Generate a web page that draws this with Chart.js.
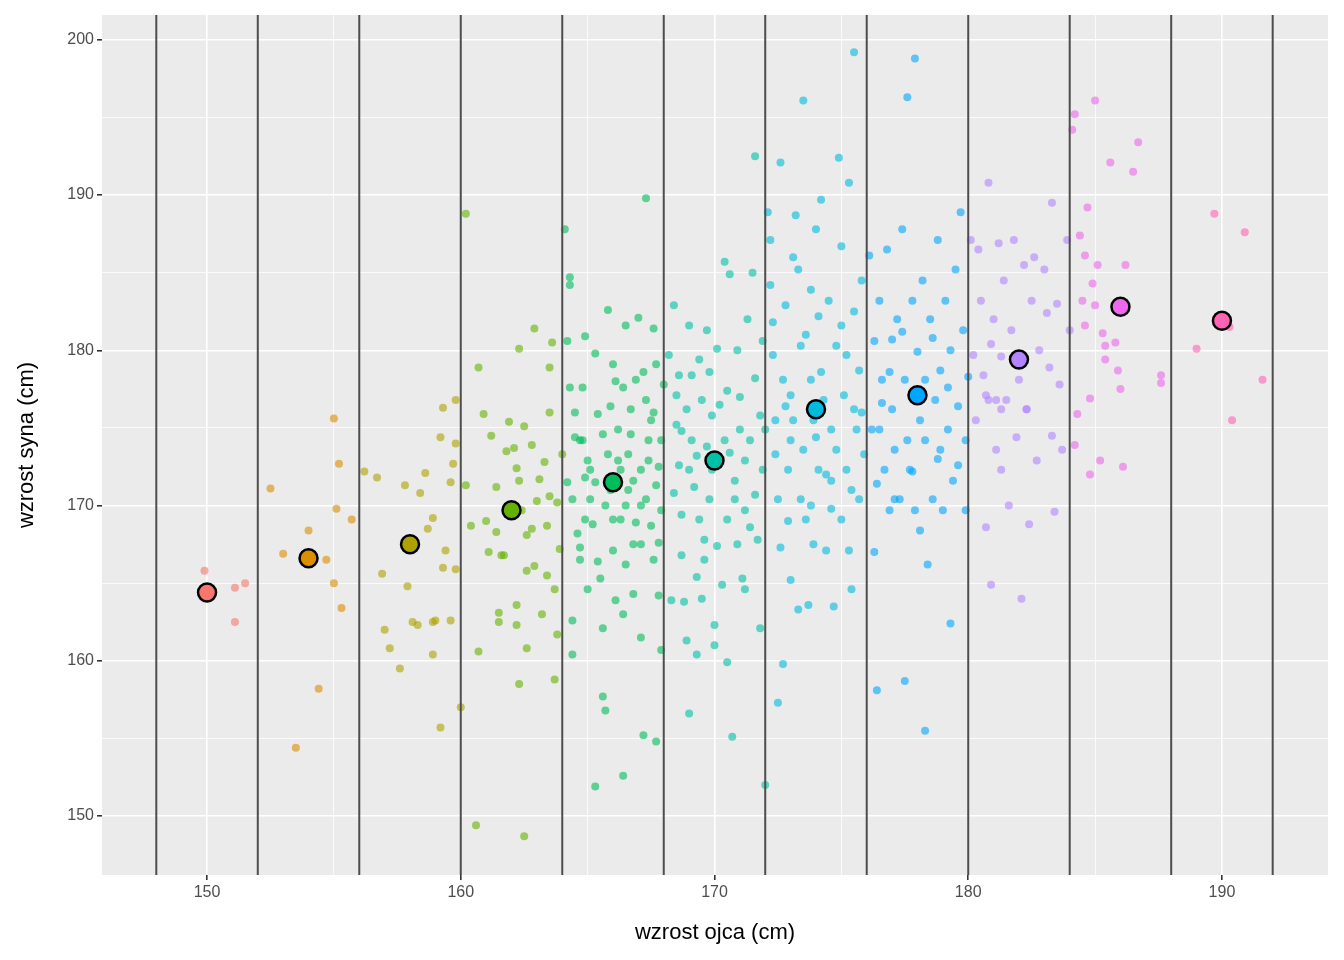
<!DOCTYPE html>
<html>
<head>
<meta charset="utf-8">
<script src="https://cdn.jsdelivr.net/npm/chart.js@4"></script>
<style>
  body { margin: 0; background: #fff; }
  #wrap { width: 1344px; height: 960px; }
</style>
</head>
<body>
<div id="wrap"><canvas id="chart"></canvas></div>
<script>
// group centres (father height) and mean son height per group
const groupCentres = [150, 154, 158, 162, 166, 170, 174, 178, 182, 186, 190];
const groupMeans = [164.4, 166.6, 167.5, 169.7, 171.5, 172.9, 176.2, 177.1, 179.4, 182.8, 181.9];
const groupColors = ['#F8766D', '#DB8E00', '#AEA200', '#64B200', '#00BD5C', '#00C1A7', '#00BADE', '#00A6FF', '#B385FF', '#EF67EB', '#FF63B6'];
const boundaries = [148, 152, 156, 160, 164, 168, 172, 176, 180, 184, 188, 192];
const xTicks = [150, 160, 170, 180, 190];
const yTicks = [150, 160, 170, 180, 190, 200];

const g150 = [[149.9,165.8],[151.1,164.7],[151.5,165.0],[151.1,162.5]];
const g154 = [[152.5,171.1],[153.0,166.9],[153.5,154.4],[154.4,158.2],[154.7,166.5],[155.0,175.6],[155.2,172.7],[155.1,169.8],[155.7,169.1],[155.0,165.0],[155.3,163.4],[154.0,168.4]];
const g158 = [[156.2,172.2],[156.7,171.8],[156.9,165.6],[157.0,162.0],[157.2,160.8],[157.6,159.5],[157.8,171.3],[157.9,164.8],[158.1,162.5],[158.3,162.3],[158.4,170.8],[158.6,172.1],[158.7,168.5],[158.9,169.2],[158.9,162.5],[158.9,160.4],[159.2,174.4],[159.3,176.3],[159.3,166.0],[159.4,167.1],[159.2,155.7],[159.6,171.5],[159.7,172.7],[159.8,176.8],[159.8,174.0],[159.8,165.9],[160.0,157.0],[159.6,162.6],[159.0,162.6]];
const g162 = [[160.2,188.8],[160.6,149.4],[160.7,160.6],[160.7,178.9],[160.2,171.3],[160.4,168.7],[160.9,175.9],[161.0,169.0],[161.2,174.5],[161.4,168.3],[161.5,162.5],[161.5,163.1],[161.6,166.8],[161.7,166.8],[161.8,173.5],[161.9,175.4],[162.1,173.7],[162.2,172.4],[162.3,171.6],[162.2,163.6],[162.2,162.3],[162.3,180.1],[162.3,158.5],[162.5,148.7],[162.6,160.8],[162.6,168.1],[162.4,169.7],[162.8,173.9],[162.8,168.5],[162.9,181.4],[162.9,166.1],[163.1,171.7],[163.3,172.8],[163.4,165.5],[163.4,168.7],[163.5,170.6],[163.5,176.0],[163.5,178.9],[163.6,180.5],[163.7,164.6],[163.7,158.8],[163.8,161.7],[163.8,170.2],[164.0,173.3],[162.6,165.8],[161.1,167.0],[163.0,170.3],[162.5,175.1],[163.9,167.2],[161.4,171.2],[163.2,163.0]];
const g166 = [[164.1,187.8],[164.3,184.7],[164.3,184.2],[164.2,180.6],[164.3,177.6],[164.2,171.5],[164.4,170.4],[164.4,162.6],[164.4,160.4],[164.5,174.4],[164.7,174.2],[164.7,167.3],[164.8,177.6],[164.9,180.9],[165.0,172.9],[165.1,170.4],[165.3,151.9],[165.3,179.8],[165.4,175.9],[165.4,166.4],[165.5,165.3],[165.6,157.7],[165.7,156.8],[165.6,162.1],[165.8,173.3],[165.8,182.6],[166.0,179.1],[166.0,169.1],[166.0,167.1],[166.1,163.9],[166.2,174.9],[166.3,169.1],[166.4,177.6],[166.4,152.6],[166.5,181.6],[166.6,173.3],[166.6,171.0],[166.7,176.2],[166.8,164.3],[166.8,167.5],[166.9,178.1],[167.0,182.1],[167.1,172.3],[167.1,161.5],[167.2,155.2],[167.3,189.8],[167.3,176.8],[167.3,170.4],[167.4,174.2],[167.5,168.7],[167.5,175.5],[167.6,181.4],[167.6,166.5],[167.7,154.8],[167.7,179.1],[167.8,172.5],[167.8,164.2],[167.9,160.7],[167.9,169.7],[167.9,174.2],[168.0,177.8],[165.1,172.3],[165.7,170.0],[166.3,172.3],[167.1,170.0],[164.9,169.1],[166.8,171.6],[166.2,172.9],[164.8,174.2],[165.3,171.5],[166.5,170.0],[167.7,171.3],[165.9,176.4],[164.7,166.5],[167.1,167.5],[166.5,166.2],[164.6,168.2],[165.2,168.8],[166.9,168.9],[167.4,172.9],[165.6,174.6],[166.1,178.0],[167.2,178.6],[164.5,176.0],[165.9,171.0],[167.6,176.0],[166.4,163.0],[165.0,164.6],[167.8,167.6],[164.9,171.8],[166.7,174.6]];
const g170 = [[168.2,179.7],[168.3,163.9],[168.4,182.9],[168.5,177.1],[168.5,175.2],[168.6,172.6],[168.7,169.4],[168.7,166.8],[168.8,163.8],[168.9,161.3],[169.0,181.6],[169.1,178.4],[169.1,174.2],[169.2,171.2],[169.3,165.4],[169.0,156.6],[169.3,160.4],[169.4,179.4],[169.5,176.8],[169.6,167.8],[169.7,173.8],[169.7,181.3],[169.8,170.4],[169.9,175.8],[170.0,162.3],[170.0,161.0],[170.1,180.1],[170.2,172.9],[170.3,164.9],[170.4,185.7],[170.5,169.1],[170.5,159.9],[170.5,177.4],[170.6,184.9],[170.7,155.1],[170.8,171.6],[170.9,167.5],[170.9,180.0],[171.0,174.9],[171.1,165.3],[171.2,164.6],[171.2,169.7],[171.3,182.0],[171.4,174.2],[171.5,185.0],[171.6,192.5],[171.6,178.2],[171.7,167.8],[171.8,162.1],[171.9,172.3],[172.0,174.9],[172.0,152.0],[169.9,172.3],[169.0,172.3],[169.4,169.1],[171.2,172.9],[170.4,174.2],[170.8,170.4],[171.6,170.7],[168.7,174.8],[170.2,176.5],[169.6,166.5],[168.4,170.8],[169.3,173.2],[170.6,173.4],[171.0,177.0],[171.8,175.8],[169.8,178.6],[168.9,176.2],[170.1,167.4],[171.4,168.6],[168.6,178.4],[169.5,164.0],[171.9,180.6]];
const g174 = [[172.1,188.9],[172.2,187.1],[172.3,179.7],[172.4,175.5],[172.5,170.4],[172.6,167.3],[172.5,157.3],[172.6,192.1],[172.7,178.1],[172.7,159.8],[172.8,182.9],[172.9,172.3],[173.0,165.2],[173.1,186.0],[173.1,175.5],[173.2,188.7],[173.3,163.3],[173.4,180.3],[173.5,196.1],[173.5,173.6],[173.6,169.1],[173.7,163.6],[173.8,183.9],[173.8,178.1],[173.9,167.5],[174.0,187.8],[174.1,172.3],[174.1,182.2],[174.2,189.7],[174.3,176.8],[174.4,167.1],[174.5,183.2],[174.6,174.9],[174.6,171.6],[174.7,163.5],[174.8,180.3],[174.9,192.4],[175.0,169.1],[175.0,186.7],[175.1,177.1],[175.2,172.3],[175.3,167.1],[175.3,190.8],[175.4,164.6],[175.5,199.2],[175.5,182.5],[175.6,174.9],[175.7,178.7],[175.7,170.4],[175.8,184.5],[175.9,173.3],[173.0,174.2],[173.4,170.4],[172.4,173.3],[173.9,175.5],[174.8,173.6],[175.5,176.2],[174.4,172.0],[175.2,179.7],[173.0,177.1],[173.8,170.0],[172.3,181.8],[172.8,176.4],[173.6,181.0],[174.2,178.6],[175.0,181.6],[175.8,176.0],[174.0,174.4],[172.9,169.0],[174.6,169.8],[175.4,171.0],[172.2,184.2],[173.3,185.2]];
const g178 = [[176.1,186.1],[176.2,174.9],[176.3,167.0],[176.4,158.1],[176.5,183.2],[176.6,178.1],[176.7,172.3],[176.8,186.5],[176.9,169.7],[177.0,180.7],[177.0,176.2],[177.1,173.6],[177.2,182.0],[177.3,170.4],[177.4,187.8],[177.5,178.1],[177.5,158.7],[177.6,196.3],[177.7,172.3],[177.8,183.2],[177.9,169.7],[177.9,198.8],[178.0,179.9],[178.1,175.5],[178.2,184.5],[178.3,155.5],[178.3,174.2],[178.4,166.2],[178.5,182.0],[178.6,170.4],[178.7,176.8],[178.8,187.1],[178.8,173.0],[178.9,178.7],[179.0,169.7],[179.1,183.2],[179.2,174.9],[179.3,162.4],[179.3,180.0],[179.4,171.6],[179.5,185.2],[179.6,176.4],[179.7,188.9],[179.8,181.3],[179.9,169.7],[179.9,174.2],[180.0,178.3],[177.1,170.4],[176.5,174.9],[177.9,176.8],[178.9,173.6],[178.3,178.1],[177.6,174.2],[176.3,180.6],[176.9,178.6],[177.4,181.2],[178.6,180.8],[179.2,177.6],[176.6,176.6],[177.8,172.2],[178.1,168.4],[176.4,171.4],[179.6,172.6]];
const g182 = [[180.1,187.1],[180.2,179.7],[180.3,175.5],[180.4,186.5],[180.5,183.2],[180.6,178.4],[180.7,168.6],[180.8,190.8],[180.8,176.8],[180.9,164.9],[181.0,182.0],[181.1,173.6],[181.2,186.9],[181.3,179.6],[181.3,172.3],[181.4,184.5],[181.5,176.8],[181.6,170.0],[181.7,181.3],[181.8,187.1],[181.9,174.4],[182.0,178.1],[182.1,164.0],[182.2,185.5],[182.3,176.2],[182.4,168.8],[182.5,183.2],[182.7,172.9],[182.8,180.0],[183.0,185.2],[183.1,182.4],[183.3,174.5],[183.3,189.5],[183.4,169.6],[183.6,177.8],[183.7,173.6],[183.9,187.1],[184.0,181.3],[181.3,176.2],[182.3,176.2],[180.7,177.1],[183.2,178.9],[180.9,180.4],[181.1,176.8],[182.6,186.0],[183.5,183.0]];
const g186 = [[184.1,194.2],[184.2,173.9],[184.2,195.2],[184.3,175.9],[184.4,187.4],[184.5,183.2],[184.6,181.6],[184.6,186.1],[184.7,189.2],[184.8,176.9],[184.9,184.3],[185.0,196.1],[185.0,182.9],[185.1,185.5],[185.2,172.9],[185.3,181.1],[185.4,179.4],[185.6,192.1],[185.8,180.5],[185.9,178.7],[186.0,177.5],[186.1,172.5],[186.2,185.5],[186.5,191.5],[186.7,193.4],[187.6,178.4],[187.6,177.9],[185.4,180.3],[184.8,172.0]];
const g190 = [[189.0,180.1],[189.7,188.8],[190.3,181.5],[190.4,175.5],[190.9,187.6],[191.6,178.1]];
const groupPoints = [g150, g154, g158, g162, g166, g170, g174, g178, g182, g186, g190];

function alpha(hex, a) {
  const n = parseInt(hex.slice(1), 16);
  return 'rgba(' + (n >> 16) + ',' + ((n >> 8) & 255) + ',' + (n & 255) + ',' + a + ')';
}

const datasets = [];
groupPoints.forEach((pts, i) => {
  datasets.push({
    type: 'scatter',
    data: pts.map(p => ({x: p[0], y: p[1]})),
    backgroundColor: alpha(groupColors[i], 0.6),
    borderWidth: 0,
    pointRadius: 4,
    order: 3
  });
});
boundaries.forEach(b => {
  datasets.push({
    type: 'line',
    data: [{x: b, y: 140}, {x: b, y: 210}],
    borderColor: '#4D4D4D',
    borderWidth: 2,
    pointRadius: 0,
    order: 2
  });
});
datasets.push({
  type: 'scatter',
  data: groupCentres.map((c, i) => ({x: c, y: groupMeans[i]})),
  backgroundColor: groupColors,
  borderColor: '#000',
  borderWidth: 2.5,
  pointRadius: 9,
  order: 1
});

const panelBg = {
  id: 'panelBg',
  beforeDraw(chart) {
    const a = chart.chartArea, ctx = chart.ctx;
    ctx.save();
    ctx.fillStyle = '#EBEBEB';
    ctx.fillRect(a.left, a.top, a.right - a.left, a.bottom - a.top);
    ctx.restore();
  }
};

const tickFont = {family: 'Liberation Sans, Arial, sans-serif', size: 16};
const titleFont = {family: 'Liberation Sans, Arial, sans-serif', size: 22};

new Chart(document.getElementById('chart'), {
  data: {datasets},
  options: {
    responsive: true,
    maintainAspectRatio: false,
    animation: false,
    layout: {padding: {top: 15, right: 16, left: 14, bottom: 14}},
    plugins: {legend: {display: false}, tooltip: {enabled: false}},
    scales: {
      x: {
        type: 'linear', min: 145.86, max: 194.18,
        afterBuildTicks: s => { s.ticks = []; for (let v = 150; v <= 190; v += 5) s.ticks.push({value: v}); },
        afterFit: s => { s.height = 71; s.paddingRight = 0; s.paddingLeft = 0; },
        ticks: {color: '#4D4D4D', font: tickFont, padding: 3,
          callback: v => xTicks.includes(v) ? v : ''},
        grid: {color: '#FFFFFF', lineWidth: c => c.tick && c.tick.value % 10 === 0 ? 1.6 : 0.8,
          tickColor: c => c.tick && c.tick.value % 10 === 0 ? '#333' : 'rgba(0,0,0,0)', tickLength: 5},
        border: {display: false},
        title: {display: true, text: 'wzrost ojca (cm)', color: '#000', font: titleFont, padding: {top: 2, bottom: 0}}
      },
      y: {
        type: 'linear', min: 146.2, max: 201.6,
        afterBuildTicks: s => { s.ticks = []; for (let v = 150; v <= 200; v += 5) s.ticks.push({value: v}); },
        afterFit: s => { s.width = 88; },
        ticks: {color: '#4D4D4D', font: tickFont, padding: 3,
          callback: v => yTicks.includes(v) ? v : ''},
        grid: {color: '#FFFFFF', lineWidth: c => c.tick && c.tick.value % 10 === 0 ? 1.6 : 0.8,
          tickColor: c => c.tick && c.tick.value % 10 === 0 ? '#333' : 'rgba(0,0,0,0)', tickLength: 5},
        border: {display: false},
        title: {display: true, text: 'wzrost syna (cm)', color: '#000', font: titleFont, padding: 0}
      }
    }
  },
  plugins: [panelBg]
});
</script>
</body>
</html>
